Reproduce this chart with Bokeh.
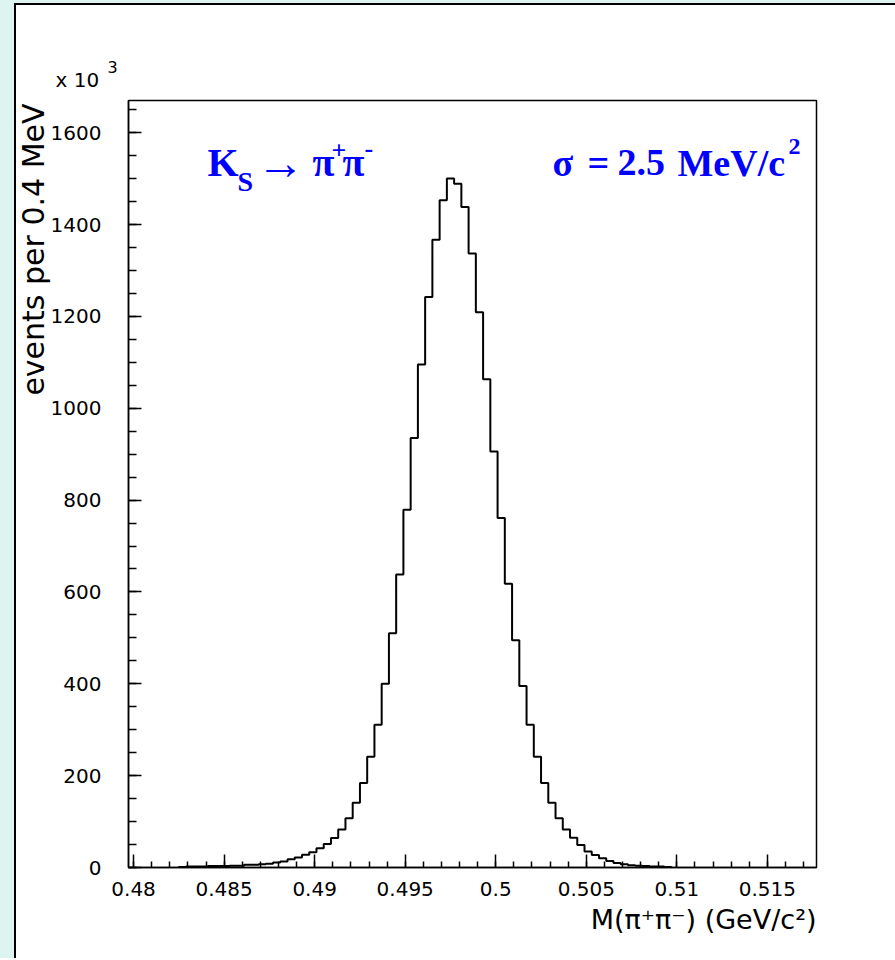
from math import pi
from bokeh.plotting import figure
from bokeh.models import Range1d, FixedTicker, Label, Div, Title
from bokeh.layouts import row, column
from bokeh.embed import file_html
from bokeh.resources import INLINE

# ---------------- data (counts in units of 10^3, bins of 0.4 MeV) ----------------
bin_width = 0.0004          # GeV
first_edge = 0.4825         # GeV, left edge of first filled bin
counts = [1, 2, 2, 2, 3, 3, 3, 4, 4,
          6, 6, 7, 8,
          11, 13, 18, 22, 28, 33, 42, 51, 64, 83,
          107, 141, 184, 241, 311, 400, 510, 638, 779, 935,
          1095, 1242, 1367, 1453, 1500, 1489, 1438, 1337, 1209, 1063,
          906, 761, 618, 495, 395, 311, 241, 184, 141, 107,
          83, 65, 49, 35, 27, 20, 14, 10, 7, 5,
          4, 3, 2, 2, 1]

x_ticks = [0.48, 0.485, 0.49, 0.495, 0.5, 0.505, 0.51, 0.515]
x_tick_labels = ["0.48", "0.485", "0.49", "0.495", "0.5", "0.505", "0.51", "0.515"]
y_ticks = [0, 200, 400, 600, 800, 1000, 1200, 1400, 1600]
y_tick_labels = [str(v) for v in y_ticks]

x_lo, x_hi = 0.47972, 0.51771
y_lo, y_hi = 0, 1670

# ---------------- histogram outline ----------------
edges = [first_edge + i * bin_width for i in range(len(counts) + 1)]
hx, hy = [edges[0]], [0]
for i, c in enumerate(counts):
    hx += [edges[i], edges[i + 1]]
    hy += [c, c]
hx.append(edges[-1]); hy.append(0)

# ---------------- figure ----------------
W, H = 879, 950
p = figure(width=W, height=H, x_range=Range1d(x_lo, x_hi), y_range=Range1d(y_lo, y_hi),
           output_backend="svg", toolbar_location=None,
           min_border_left=112, min_border_right=79, min_border_top=95, min_border_bottom=88)
p.grid.visible = False
p.background_fill_color = "white"
p.border_fill_color = "white"
p.outline_line_color = "black"
p.outline_line_width = 1.5

p.line(hx, hy, line_color="black", line_width=2)

minor_x = [round(0.480 + 0.001 * i, 4) for i in range(38)]
minor_y = [50 * i for i in range(34)]
p.xaxis.ticker = FixedTicker(ticks=x_ticks, minor_ticks=minor_x)
p.yaxis.ticker = FixedTicker(ticks=y_ticks, minor_ticks=minor_y)
p.xaxis.major_label_overrides = {t: l for t, l in zip(x_ticks, x_tick_labels)}
p.yaxis.major_label_overrides = {t: l for t, l in zip(y_ticks, y_tick_labels)}

for ax in (p.xaxis[0], p.yaxis[0]):
    ax.axis_line_color = "black"
    ax.axis_line_width = 1.5
    ax.major_tick_line_color = "black"
    ax.minor_tick_line_color = "black"
    ax.major_tick_line_width = 1.5
    ax.minor_tick_line_width = 1.5
    ax.major_tick_out = 0
    ax.minor_tick_out = 0
    ax.major_label_text_font = "DejaVu Sans"
    ax.major_label_text_font_size = "20px"
    ax.major_label_text_color = "black"
p.xaxis.major_tick_in = 13
p.xaxis.minor_tick_in = 6
p.yaxis.major_tick_in = 13
p.yaxis.minor_tick_in = 8
p.xaxis.major_label_standoff = 14
p.yaxis.major_label_standoff = 27

# axis titles (as side-panel titles so that they are not clipped)
p.add_layout(Title(text="events per 0.4 MeV", align="right", offset=3, standoff=-6,
                   text_font="DejaVu Sans", text_font_size="30px",
                   text_font_style="normal", text_color="black"), "left")
p.add_layout(Title(text="x 10", align="left", offset=-73, standoff=17,
                   text_font="DejaVu Sans", text_font_size="20px",
                   text_font_style="normal", text_color="black"), "above")
p.add_layout(Title(text="3", align="left", offset=-21, standoff=-31,
                   text_font="DejaVu Sans", text_font_size="16px",
                   text_font_style="normal", text_color="black"), "above")
p.add_layout(Title(text="M(\u03c0\u207a\u03c0\u207b) (GeV/c\u00b2)", align="right", offset=0,
                   standoff=6, text_font="DejaVu Sans", text_font_size="27px",
                   text_font_style="normal", text_color="black"), "below")


def lab(text, dx, dy, size, font="Liberation Serif", color="#0000ff", style="bold"):
    p.add_layout(Label(x=x_lo, y=y_hi, x_offset=dx, y_offset=dy, text=text,
                       text_font=font, text_font_size=f"{size}px", text_color=color,
                       text_font_style=style, text_align="left",
                       text_baseline="alphabetic"))


# physics annotations
lab("K", 79, -62, 40)
lab("S", 109, -81, 28)
lab("\u2192", 128, -62, 48, style="normal")
lab("\u03c0", 184, -62, 40)
lab("+", 203, -50, 26)
lab("\u03c0", 214, -62, 40)
lab("-", 236, -48, 26)

lab("\u03c3", 424, -62, 38)
lab("=", 459, -62, 38)
lab("2.5", 489, -62, 38)
lab("MeV/c", 549, -62, 38)
lab("2", 660, -46, 24)

cyan = "#ddf4f0"
left_strip = Div(text="", width=16, height=958, margin=0,
                 styles={"background": f"linear-gradient(to bottom, {cyan} 0px, {cyan} 3px, transparent 3px), "
                                       f"linear-gradient(to right, {cyan} 0px, {cyan} 14px, #000000 14px, #000000 16px)"})
top_strip = Div(text="", width=W, height=5, margin=0,
                styles={"background": f"linear-gradient(to bottom, {cyan} 0px, {cyan} 3px, #000000 3px, #000000 5px)"})

layout = row(left_strip, column(top_strip, p))
open("out.html", "w").write(file_html(layout, INLINE))
